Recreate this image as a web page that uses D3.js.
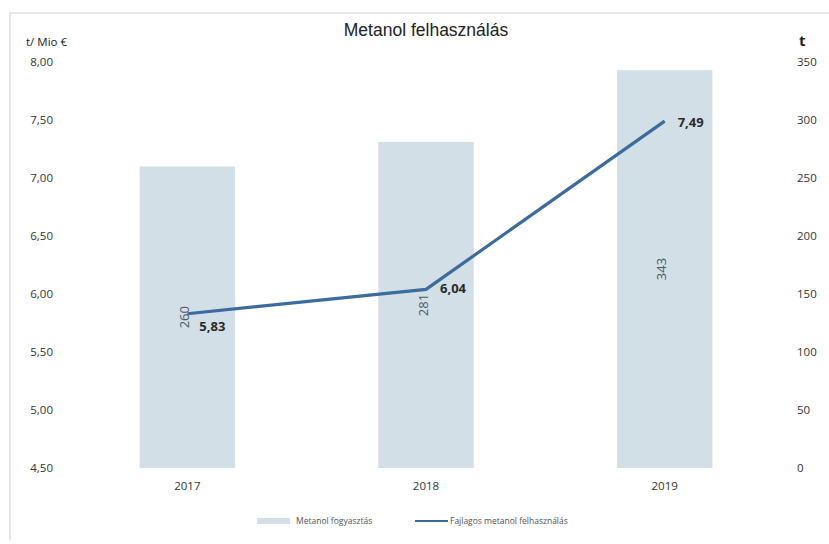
<html>
<head>
  <meta charset="utf-8" />
  <script src="https://d3js.org/d3.v7.min.js"></script>
</head>
<body style="margin: 0; background: #fff">
<script>

// chart data
let years = ['2017', '2018', '2019']
let consumption = [260, 281, 343]          // t
let specific = [5.83, 6.04, 7.49]          // t / Mio €
let leftTicks = [4.5, 5, 5.5, 6, 6.5, 7, 7.5, 8]
let rightTicks = [0, 50, 100, 150, 200, 250, 300, 350]

let width = 829, height = 544
let fmt = d => d3.format('.2f')(d).replace('.', ',')

var svg = d3.select("body").append("svg")
            .attr("width", width)
            .attr("height", height)
            .style("font-family", "'Open Sans', 'DejaVu Sans', sans-serif")

// faint frame of the scanned page
svg.append("path")
   .attr("d", "M10,540 V13 H829")
   .attr("fill", "none")
   .attr("stroke", "#d4d4d4")
   .attr("stroke-width", 1.2)

let x = d3.scaleBand().domain(years).range([68, 784]).paddingInner(0.6).paddingOuter(0.3)
let yL = d3.scaleLinear().domain([4.5, 8]).range([468, 62])
let yR = d3.scaleLinear().domain([0, 350]).range([468, 62])

// bars
svg.append("g").selectAll("rect")
   .data(years)
   .enter().append("rect")
   .attr("x", d => x(d))
   .attr("width", x.bandwidth())
   .attr("y", (d, i) => yR(consumption[i]))
   .attr("height", (d, i) => yR(0) - yR(consumption[i]))
   .attr("fill", "#d2dfe6")

// bar labels (rotated, centred in bar)
svg.append("g").selectAll("text")
   .data(years)
   .enter().append("text")
   .attr("transform", (d, i) => {
     let cx = x(d) + x.bandwidth() / 2 - 3
     let cy = (yR(consumption[i]) + yR(0)) / 2
     return "translate(" + cx + "," + cy + ") rotate(-90)"
   })
   .attr("text-anchor", "middle")
   .attr("dy", "0.35em")
   .attr("font-size", 13)
   .attr("fill", "#4d5863")
   .text((d, i) => consumption[i])

// line
let line = d3.line()
  .x((d, i) => x(years[i]) + x.bandwidth() / 2)
  .y(d => yL(d))

svg.append("path")
   .datum(specific)
   .attr("d", line)
   .attr("fill", "none")
   .attr("stroke", "#3c6b9e")
   .attr("stroke-width", 3.2)

// line labels
let offs = [[12, 13], [14, -1], [13, 1]]
svg.append("g").selectAll("text")
   .data(specific)
   .enter().append("text")
   .attr("x", (d, i) => x(years[i]) + x.bandwidth() / 2 + offs[i][0])
   .attr("y", (d, i) => yL(d) + offs[i][1])
   .attr("dy", "0.35em")
   .attr("font-size", 13)
   .attr("font-weight", "bold")
   .attr("fill", "#2a2a2a")
   .text(d => fmt(d))

// left axis
let leftAxis = d3.axisLeft(yL).tickValues(leftTicks).tickFormat(fmt).tickSize(0).tickPadding(0)
let gl = svg.append("g").attr("transform", "translate(53,0)").call(leftAxis)
gl.select(".domain").remove()
gl.selectAll("text").attr("font-size", 11.5).attr("fill", "#333").style("font-family", "'Open Sans', sans-serif")

// right axis, labels left aligned
let rightAxis = d3.axisRight(yR).tickValues(rightTicks).tickSize(0).tickPadding(0)
let gr = svg.append("g").attr("transform", "translate(797,0)").call(rightAxis)
gr.select(".domain").remove()
gr.selectAll("text").attr("font-size", 11.5).attr("fill", "#333").style("font-family", "'Open Sans', sans-serif")

// x axis
let bottomAxis = d3.axisBottom(x).tickSize(0).tickPadding(0)
let gb = svg.append("g").attr("transform", "translate(0,482)").call(bottomAxis)
gb.select(".domain").remove()
gb.selectAll("text").attr("font-size", 11.5).attr("fill", "#333").style("font-family", "'Open Sans', sans-serif")

// title and axis titles
svg.append("text")
   .attr("x", 426).attr("y", 36)
   .attr("text-anchor", "middle")
   .attr("font-size", 17.5)
   .attr("fill", "#222")
   .style("font-family", "'Liberation Sans', sans-serif")
   .text("Metanol felhasználás")

svg.append("text")
   .attr("x", 26).attr("y", 46)
   .attr("font-size", 11.5)
   .attr("fill", "#222")
   .text("t/ Mio €")

svg.append("text")
   .attr("x", 799).attr("y", 46)
   .attr("font-size", 15)
   .attr("font-weight", "bold")
   .attr("fill", "#222")
   .text("t")

// legend
let lg = svg.append("g").attr("transform", "translate(0,521)")
lg.append("rect").attr("x", 257).attr("y", -3).attr("width", 33).attr("height", 6).attr("fill", "#d2dfe6")
lg.append("text").attr("x", 296).attr("y", 0).attr("dy", "0.35em")
  .attr("font-size", 8.5).attr("fill", "#555").text("Metanol fogyasztás")
lg.append("line").attr("x1", 415).attr("x2", 448).attr("y1", 0).attr("y2", 0)
  .attr("stroke", "#3c6b9e").attr("stroke-width", 2.2)
lg.append("text").attr("x", 450).attr("y", 0).attr("dy", "0.35em")
  .attr("font-size", 8.5).attr("fill", "#555").text("Fajlagos metanol felhasználás")

</script>
</body>
</html>
